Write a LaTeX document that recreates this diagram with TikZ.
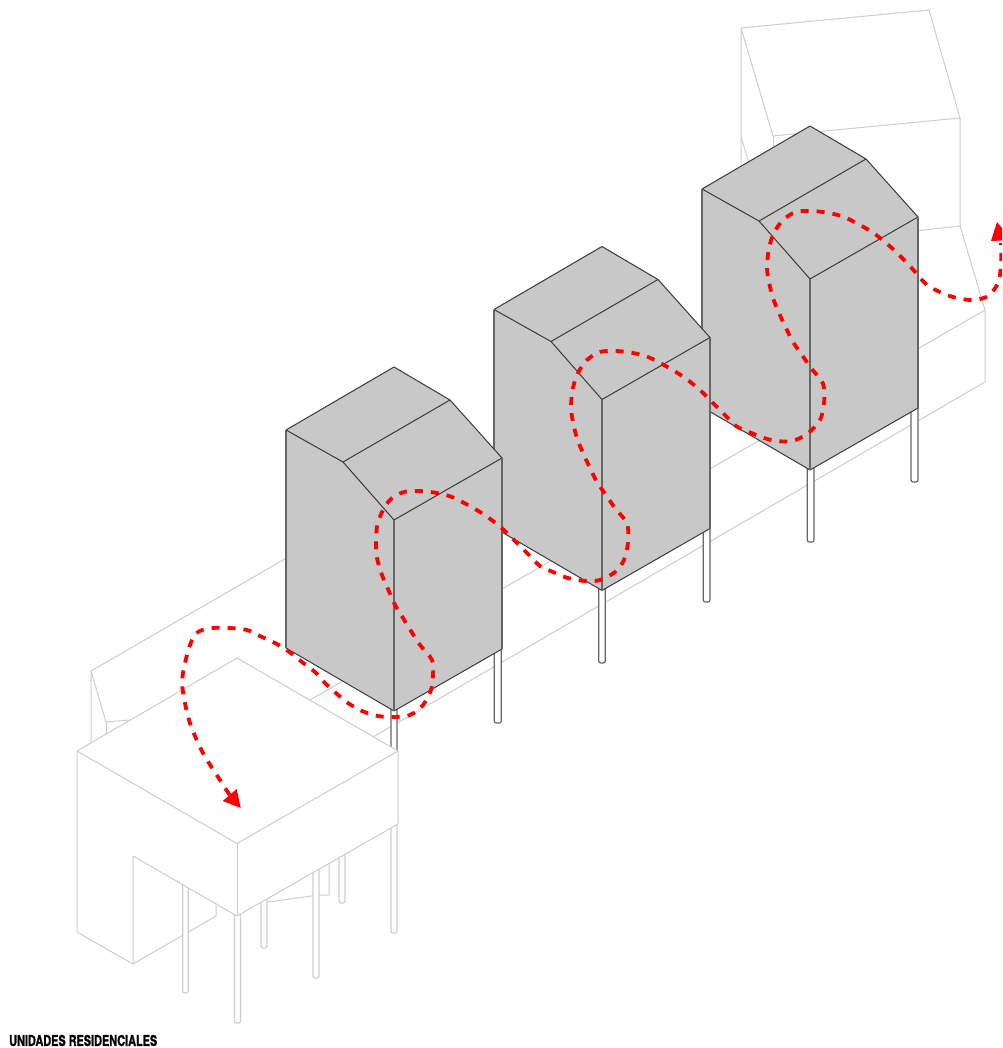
\documentclass[tikz,border=0pt]{standalone}
\usepackage{fontspec}
\setmainfont[BoldFeatures={FakeBold=1.5}]{TeX Gyre Heros}
\definecolor{ghost}{HTML}{CECECE}
\definecolor{unitfill}{HTML}{C8C8C8}
\definecolor{unitline}{HTML}{3A3A3A}
\definecolor{unitedge}{HTML}{666666}
\definecolor{pathred}{HTML}{FF0000}
\tikzset{
  ghostline/.style={draw=ghost,line width=1pt,line join=round},
  ghostleg/.style={draw=ghost,fill=white,line width=1.2pt,rounded corners=2pt},
  ghostbox/.style={draw=ghost,fill=white,line width=1pt,line join=round},
  unitbody/.style={draw=unitline,fill=unitfill,line width=1pt,line join=round},
  unitcrease/.style={draw=unitline,line width=1pt},
  unitcorner/.style={draw=unitedge,line width=1.4pt},
  unitleg/.style={draw=unitedge,fill=white,line width=1.2pt,rounded corners=2pt},
  routeline/.style={draw=pathred,line width=3.8pt,dash pattern=on 8pt off 8pt},
  routehead/.style={fill=pathred}
}
\begin{document}
\begin{tikzpicture}[x=1pt,y=-1pt]
\useasboundingbox (0,0) rectangle (1002,1048);
\clip (0,0) rectangle (1002,1048);
\fill[white] (0,0) rectangle (1002,1048);
% far house
\draw[ghostline] (741,165) -- (741,28) -- (929,10) -- (960,118) -- (773,136) -- (741,28);
\draw[ghostline] (741,137) -- (749,163);
\draw[ghostline] (773,136) -- (773,146);
\draw[ghostline] (960,118) -- (960,226) -- (985,310) -- (985,382) -- (373,737);
\draw[ghostline] (960,226) -- (915,231);
\draw[ghostline] (985,310) -- (310,700);
% near end of slab
\draw[ghostline] (91,742) -- (91,671) -- (290,556);
\draw[ghostline] (91,671) -- (106,722) -- (130,720);
\draw[ghostline] (106,722) -- (106,736);
% legs of the units
\foreach \xa/\xb/\ya/\yb in {911/918/405/482,807.3/814/465/542,703.3/710/525/602,598.7/605.3/585/663,494.3/501.3/645/723,391/397/705/760}
  \draw[unitleg] (\xa,\ya) -- (\xa,\yb) -- (\xb,\yb) -- (\xb,\ya);
% units
\foreach \i in {2,1,0}{
  \begin{scope}[shift={(\i*208,-\i*120.5)}]
    \draw[unitbody] (286,430) -- (394,367) -- (450,400) -- (502,458) -- (502,649) -- (394,711) -- (286,648) -- cycle;
    \draw[unitcrease] (286,430) -- (343,462) -- (450,400);
    \draw[unitcrease] (343,462) -- (394,520) -- (502,458);
    \draw[unitcorner] (394,520) -- (394,711);
    \draw[unitcorner] (286,430) -- (286,648);
    \draw[unitcorner] (502,458) -- (502,649);
  \end{scope}
}
% front block: what stands under it
\draw[ghostline] (133,964) -- (216,916) -- (216,902);
\draw[ghostline] (264,902.5) -- (319,895) -- (329,895) -- (329,860);
\foreach \xa/\xb/\ya/\yb in {182.7/188.3/870/993,234.5/240.5/900/1023,261/267/890/948,313/319/860/978,339/345/840/903,391/397/810/933}
  \draw[ghostleg] (\xa,\ya) -- (\xa,\yb) -- (\xb,\yb) -- (\xb,\ya);
% front block
\draw[ghostbox] (77,751) -- (237,658) -- (398,751) -- (398,824) -- (237,916) -- (133,856) -- (133,964) -- (77,932) -- cycle;
\draw[ghostline] (77,751) -- (237,843.5) -- (398,751);
\draw[ghostline] (237,843.5) -- (237,916);
% route
\draw[routeline] plot[smooth,tension=0.55] coordinates {
 (229.7,795) (220,780) (203,753) (190,723) (183,692) (183,673) (190,645) (198,632) (213,628) (230,628) (247,630) (260,636) (275,643) (288,651) (302,662) (315,672)
 (325,683) (337,694) (348,703) (362,711) (378,716) (394,717) (410,715) (423,705) (431,690) (433,675) (432,660) (420,645) (411,631) (403,618) (394,603) (388,589) (382,575) (377,558) (376,543) (377,527) (382,512) (391,499) (404,492) (420,491) (437,493) (452,497) (466,504) (480,512) (493,521) (505,531)
 (517,543) (528,554) (540,566) (553,572) (568,578) (585,581) (600,580) (615,572) (624,560) (628,543) (628,528) (625,520) (615,508) (606,495) (597,482) (590,468) (583,453) (577,438) (573,422) (571,407) (573,388) (578,373) (587,360) (600,352) (616,351) (633,353) (648,357) (662,364) (676,372) (689,381) (701,391)
 (713,403) (724,414) (736,426) (749,432) (764,438) (777,441) (792,441) (807,434) (820,420) (824,403) (824,388) (821,380) (811,368) (802,355) (793,342) (786,328) (779,313) (773,298) (769,282) (767,267) (769,248) (774,233) (783,220) (796,212) (812,211) (829,213) (844,217) (858,224) (872,232) (885,242) (896,252)
 (907,263) (917,274) (927,285) (942,293) (957,298) (973,300) (988,296) (998,283) (1001,265) (1001,243)};
\fill[routehead] (240.7,808) -- (222.7,801) -- (236.7,789) -- cycle;
\fill[routehead] (997,222) -- (991,241) -- (1012,240) -- cycle;
% caption
\node[anchor=west,inner sep=0pt] (caption) at (9,1040.5) {\resizebox{148pt}{11pt}{\bfseries UNIDADES RESIDENCIALES}};
\end{tikzpicture}
\end{document}
